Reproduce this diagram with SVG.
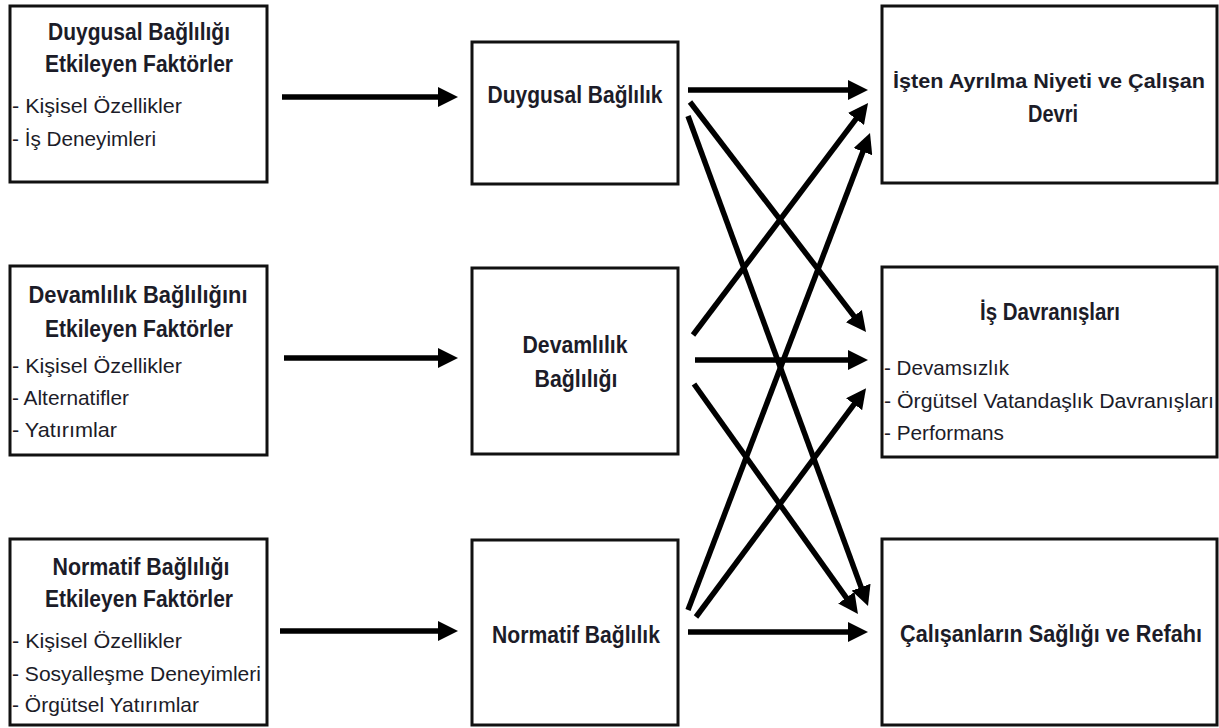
<svg xmlns="http://www.w3.org/2000/svg" width="1219" height="728" viewBox="0 0 1219 728">
<style>
.box{fill:#fff;stroke:#111;stroke-width:3}
.t{font-family:"Liberation Sans",Arial,sans-serif;fill:#1c1c28}
.b{font-weight:bold;font-size:23px}
.r{font-size:21px}
.c{text-anchor:middle}
.ln{stroke:#000;stroke-width:5.5;fill:none}
</style>
<defs>
<marker id="ah" markerUnits="userSpaceOnUse" markerWidth="22" markerHeight="20" refX="2" refY="10" orient="auto" viewBox="0 0 22 20">
<path d="M0,0 L20,10 L0,20 z" fill="#000"/>
</marker>
</defs>
<rect width="1219" height="728" fill="#fff"/>
<g id="left1">
<rect class="box" x="10" y="6" width="257" height="176"/>
<text class="t b c" x="139" y="40" textLength="182" lengthAdjust="spacingAndGlyphs">Duygusal Bağlılığı</text>
<text class="t b c" x="139" y="72" textLength="188" lengthAdjust="spacingAndGlyphs">Etkileyen Faktörler</text>
<text class="t r" x="12" y="113" textLength="170" lengthAdjust="spacingAndGlyphs">- Kişisel Özellikler</text>
<text class="t r" x="12" y="146" textLength="144" lengthAdjust="spacingAndGlyphs">- İş Deneyimleri</text>
</g>
<g id="left2">
<rect class="box" x="10" y="266" width="257" height="189"/>
<text class="t b c" x="138" y="303" textLength="219" lengthAdjust="spacingAndGlyphs">Devamlılık Bağlılığını</text>
<text class="t b c" x="139" y="337" textLength="188" lengthAdjust="spacingAndGlyphs">Etkileyen Faktörler</text>
<text class="t r" x="12" y="373" textLength="170" lengthAdjust="spacingAndGlyphs">- Kişisel Özellikler</text>
<text class="t r" x="12" y="405" textLength="117" lengthAdjust="spacingAndGlyphs">- Alternatifler</text>
<text class="t r" x="12" y="437" textLength="105" lengthAdjust="spacingAndGlyphs">- Yatırımlar</text>
</g>
<g id="left3">
<rect class="box" x="10" y="539" width="257" height="186"/>
<text class="t b c" x="141" y="575" textLength="177" lengthAdjust="spacingAndGlyphs">Normatif Bağlılığı</text>
<text class="t b c" x="139" y="607" textLength="188" lengthAdjust="spacingAndGlyphs">Etkileyen Faktörler</text>
<text class="t r" x="12" y="648" textLength="170" lengthAdjust="spacingAndGlyphs">- Kişisel Özellikler</text>
<text class="t r" x="12" y="681" textLength="249" lengthAdjust="spacingAndGlyphs">- Sosyalleşme Deneyimleri</text>
<text class="t r" x="12" y="712" textLength="187" lengthAdjust="spacingAndGlyphs">- Örgütsel Yatırımlar</text>
</g>
<g id="mid1">
<rect class="box" x="472" y="42" width="206" height="142"/>
<text class="t b c" x="575" y="103" textLength="175" lengthAdjust="spacingAndGlyphs">Duygusal Bağlılık</text>
</g>
<g id="mid2">
<rect class="box" x="472" y="268" width="206" height="186"/>
<text class="t b c" x="575" y="353" textLength="105" lengthAdjust="spacingAndGlyphs">Devamlılık</text>
<text class="t b c" x="576" y="387" textLength="83" lengthAdjust="spacingAndGlyphs">Bağlılığı</text>
</g>
<g id="mid3">
<rect class="box" x="472" y="540" width="206" height="185"/>
<text class="t b c" x="576" y="643" textLength="168" lengthAdjust="spacingAndGlyphs">Normatif Bağlılık</text>
</g>
<g id="right1">
<rect class="box" x="882" y="6" width="335" height="177"/>
<text class="t b c" x="1049" y="88" style="font-size:21px" textLength="312" lengthAdjust="spacingAndGlyphs">İşten Ayrılma Niyeti ve Çalışan</text>
<text class="t b c" x="1053" y="122" textLength="50" lengthAdjust="spacingAndGlyphs">Devri</text>
</g>
<g id="right2">
<rect class="box" x="882" y="267" width="335" height="190"/>
<text class="t b c" x="1050" y="320" textLength="140" lengthAdjust="spacingAndGlyphs">İş Davranışları</text>
<text class="t r" x="884" y="375" textLength="125" lengthAdjust="spacingAndGlyphs">- Devamsızlık</text>
<text class="t r" x="884" y="408" style="font-size:20px" textLength="330" lengthAdjust="spacingAndGlyphs">- Örgütsel Vatandaşlık Davranışları</text>
<text class="t r" x="884" y="440" textLength="120" lengthAdjust="spacingAndGlyphs">- Performans</text>
</g>
<g id="right3">
<rect class="box" x="882" y="539" width="335" height="186"/>
<text class="t b c" x="1051" y="642" textLength="302" lengthAdjust="spacingAndGlyphs">Çalışanların Sağlığı ve Refahı</text>
</g>
<g id="connectors" class="ln" marker-end="url(#ah)">
<line x1="282" y1="97" x2="440" y2="97"/>
<line x1="284" y1="358" x2="440" y2="358"/>
<line x1="280" y1="631" x2="440" y2="631"/>
<line x1="688" y1="90" x2="850" y2="90"/>
<line x1="690" y1="102" x2="855.1" y2="317.7"/>
<line x1="688" y1="116" x2="861.8" y2="589.1"/>
<line x1="693" y1="335" x2="857.2" y2="117.4"/>
<line x1="695" y1="360" x2="850" y2="360"/>
<line x1="694" y1="384" x2="847.5" y2="599.3"/>
<line x1="688" y1="610" x2="863.6" y2="149.8"/>
<line x1="696" y1="617" x2="855.3" y2="402.6"/>
<line x1="688" y1="632" x2="850" y2="632"/>
</g>
</svg>
